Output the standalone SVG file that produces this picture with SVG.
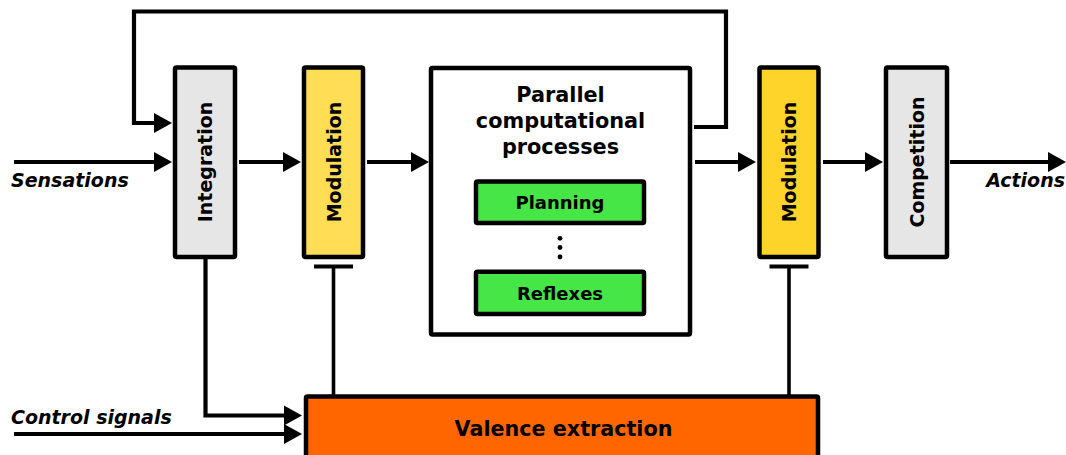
<svg xmlns="http://www.w3.org/2000/svg" width="1066" height="455" viewBox="0 0 1066 455">
<style>
.box{stroke:#000;stroke-width:4.5;stroke-linejoin:round}
.grey{fill:#e6e6e6}
.y1{fill:#ffdd55}
.y2{fill:#ffd42a}
.green{fill:#46e646}
.white{fill:#fff}
.orange{fill:#ff6600}
.con{fill:none;stroke:#000;stroke-width:4.2}
.inh{fill:none;stroke:#000;stroke-width:3.6}
text{font-family:"DejaVu Sans","Liberation Sans",sans-serif;font-weight:bold;fill:#000}
.vt{font-size:19px;text-anchor:middle}
.it{font-style:italic;font-size:19px}
</style>
<defs>
<marker id="arr" markerUnits="userSpaceOnUse" markerWidth="19" markerHeight="21" refX="0" refY="10" orient="auto" overflow="visible">
<path d="M0,0 L18,10 L0,20 Z" fill="#000"/>
</marker>
</defs>
<rect width="1066" height="455" fill="#fff"/>
<g id="connectors">
<path class="con" d="M14,162 H154" marker-end="url(#arr)"/>
<path class="con" d="M694,127 H726 V11.5 H134 V123 H154" marker-end="url(#arr)"/>
<path class="con" d="M239,162 H283" marker-end="url(#arr)"/>
<path class="con" d="M367,162 H411" marker-end="url(#arr)"/>
<path class="con" d="M695,162 H738" marker-end="url(#arr)"/>
<path class="con" d="M823,162 H865" marker-end="url(#arr)"/>
<path class="con" d="M950,162 H1048" marker-end="url(#arr)"/>
<path class="con" d="M205.5,259 V415.5 H284" marker-end="url(#arr)"/>
<path class="con" d="M14,434 H284" marker-end="url(#arr)"/>
<path class="inh" d="M333.5,266.5 V396"/>
<path class="con" d="M314,266.5 H353"/>
<path class="inh" d="M789,266.5 V396"/>
<path class="con" d="M769.5,266.5 H808.5"/>
</g>
<g id="integration">
<rect class="box grey" x="175" y="67.5" width="60" height="189.5" rx="1.5"/>
<text class="vt" transform="translate(212,162) rotate(-90)">Integration</text>
</g>
<g id="modulation1">
<rect class="box y1" x="304" y="67.5" width="59" height="189.5" rx="1.5"/>
<text class="vt" transform="translate(340.5,162) rotate(-90)">Modulation</text>
</g>
<g id="parallel">
<rect class="box white" x="431" y="68" width="259" height="266.5" rx="1.5"/>
<text font-size="20.8" text-anchor="middle"><tspan x="560.5" y="101.5">Parallel</tspan><tspan x="560.5" y="128">computational</tspan><tspan x="560.5" y="153.5">processes</tspan></text>
<circle cx="560" cy="238.3" r="2.4"/>
<circle cx="560" cy="247.5" r="2.4"/>
<circle cx="560" cy="257" r="2.4"/>
</g>
<g id="planning">
<rect class="box green" x="476" y="181.5" width="168" height="41.5" rx="1.5"/>
<text font-size="18" text-anchor="middle" x="560" y="209">Planning</text>
</g>
<g id="reflexes">
<rect class="box green" x="476" y="271.7" width="168" height="42.3" rx="1.5"/>
<text font-size="18" text-anchor="middle" x="560" y="300">Reflexes</text>
</g>
<g id="modulation2">
<rect class="box y2" x="759.5" y="67.5" width="59" height="189.5" rx="1.5"/>
<text class="vt" transform="translate(796,162) rotate(-90)">Modulation</text>
</g>
<g id="competition">
<rect class="box grey" x="886" y="67.5" width="61" height="189.5" rx="1.5"/>
<text class="vt" transform="translate(923.5,162) rotate(-90)">Competition</text>
</g>
<g id="valence">
<rect class="box orange" x="306" y="396.5" width="512" height="80" rx="1.5"/>
<text font-size="20.7" text-anchor="middle" x="563.5" y="436">Valence extraction</text>
</g>
<g id="labels">
<text class="it" x="11" y="187">Sensations</text>
<text class="it" x="1065" y="187" text-anchor="end">Actions</text>
<text class="it" x="11" y="424">Control signals</text>
</g>
</svg>
